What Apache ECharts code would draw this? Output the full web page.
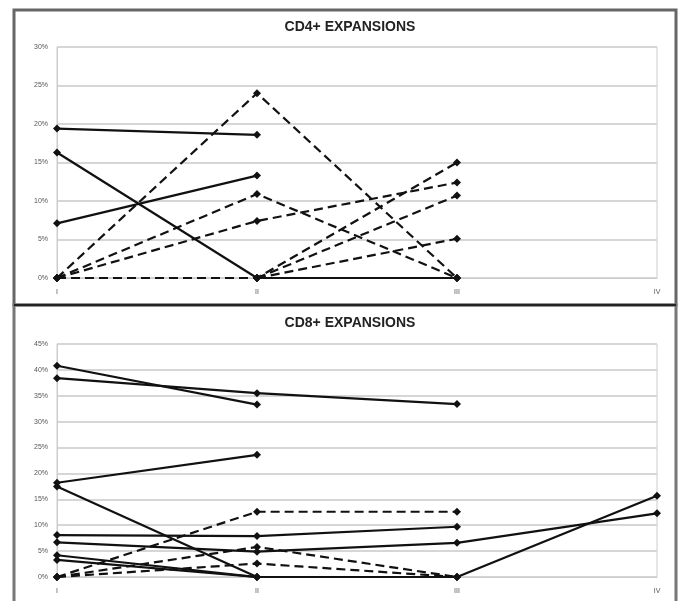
<!DOCTYPE html>
<html>
<head>
<meta charset="utf-8">
<script src="https://cdn.jsdelivr.net/npm/echarts@6/dist/echarts.min.js"></script>
<style>html,body{margin:0;padding:0;background:#fff;}#c{width:681px;height:601px;}</style>
</head>
<body>
<div id="c"></div>
<script>
// Categories (time points)
const categories = ['I', 'II', 'III', 'IV'];

// CD4+ expansions (%)
const cd4Solid1 = [19.4, 18.6, null, null];
const cd4Solid2 = [16.3, 0, 0, null];
const cd4Solid3 = [7.1, 13.3, null, null];
const cd4Dash1 = [0, 24.0, 0, null];
const cd4Dash2 = [0, 10.9, 0, null];
const cd4Dash3 = [0, 7.4, 12.4, null];
const cd4Dash4 = [0, 0, 15.0, null];
const cd4Dash5 = [null, 0, 10.7, null];
const cd4Dash6 = [null, 0, 5.1, null];

// CD8+ expansions (%)
const cd8Solid1 = [38.4, 35.5, 33.4, null];
const cd8Solid2 = [40.8, 33.3, null, null];
const cd8Solid3 = [18.2, 23.6, null, null];
const cd8Solid4 = [17.5, 0, 0, 15.7];
const cd8Solid5 = [8.1, 7.9, 9.7, null];
const cd8Solid6 = [6.7, 4.9, 6.6, 12.3];
const cd8Solid7 = [4.2, 0, null, null];
const cd8Solid8 = [3.3, 0, null, null];
const cd8Dash1 = [0, 12.6, 12.6, null];
const cd8Dash2 = [0, 5.8, 0, null];
const cd8Dash3 = [0, 2.6, 0, null];

// Y tick settings
const cd4YMax = 30, cd4YStep = 5;
const cd8YMax = 45, cd8YStep = 5;

const cd4Series = [
  {d: cd4Solid1, dash: false}, {d: cd4Solid2, dash: false}, {d: cd4Solid3, dash: false},
  {d: cd4Dash1, dash: true}, {d: cd4Dash2, dash: true}, {d: cd4Dash3, dash: true},
  {d: cd4Dash4, dash: true}, {d: cd4Dash5, dash: true}, {d: cd4Dash6, dash: true}
];
const cd8Series = [
  {d: cd8Solid1, dash: false}, {d: cd8Solid2, dash: false}, {d: cd8Solid3, dash: false},
  {d: cd8Solid4, dash: false}, {d: cd8Solid5, dash: false}, {d: cd8Solid6, dash: false},
  {d: cd8Solid7, dash: false}, {d: cd8Solid8, dash: false},
  {d: cd8Dash1, dash: true}, {d: cd8Dash2, dash: true}, {d: cd8Dash3, dash: true}
];

function mk(s, idx) {
  return {
    type: 'line', xAxisIndex: idx, yAxisIndex: idx,
    data: s.d.map(v => v === null ? '-' : v),
    connectNulls: false,
    symbol: 'diamond', symbolSize: 8,
    itemStyle: {color: '#111'},
    lineStyle: {color: '#111', width: 2.2, type: s.dash ? [9, 5] : 'solid'},
    animation: false, z: 3
  };
}

const chart = echarts.init(document.getElementById('c'));
const axisLabelStyle = {fontSize: 7, color: '#555', fontFamily: 'Liberation Sans'};
const xAx = (gi) => ({
  type: 'category', gridIndex: gi, data: categories, boundaryGap: false,
  axisLine: {show: true, lineStyle: {color: '#ccc', width: 1}},
  axisTick: {show: false},
  axisLabel: Object.assign({margin: 11}, axisLabelStyle),
  splitLine: {show: false}
});
const yAx = (gi, max, step) => ({
  type: 'value', gridIndex: gi, min: 0, max: max, interval: step,
  axisLine: {show: true, lineStyle: {color: '#ccc', width: 1}},
  axisTick: {show: false},
  axisLabel: Object.assign({margin: 9, formatter: '{value}%'}, axisLabelStyle),
  splitLine: {show: true, lineStyle: {color: '#d6d6d6', width: 2}}
});

chart.setOption({
  backgroundColor: '#fff',
  animation: false,
  title: [
    {text: 'CD4+ EXPANSIONS', left: 345, top: 15, textAlign: 'center',
     textStyle: {fontSize: 14, fontWeight: 'bold', color: '#222', fontFamily: 'Liberation Sans'}},
    {text: 'CD8+ EXPANSIONS', left: 345, top: 311, textAlign: 'center',
     textStyle: {fontSize: 14, fontWeight: 'bold', color: '#222', fontFamily: 'Liberation Sans'}}
  ],
  grid: [
    {left: 57, right: 24, top: 47, height: 231, show: true, borderColor: '#ccc', borderWidth: 1},
    {left: 57, right: 24, top: 344, height: 233, show: true, borderColor: '#ccc', borderWidth: 1}
  ],
  xAxis: [xAx(0), xAx(1)],
  yAxis: [yAx(0, cd4YMax, cd4YStep), yAx(1, cd8YMax, cd8YStep)],
  series: cd4Series.map(s => mk(s, 0)).concat(cd8Series.map(s => mk(s, 1))),
  graphic: [
    {type: 'rect', shape: {x: 14, y: 10, width: 662, height: 295},
     style: {fill: 'none', stroke: '#666', lineWidth: 3}, z: 10},
    {type: 'rect', shape: {x: 14, y: 305, width: 662, height: 310},
     style: {fill: 'none', stroke: '#777', lineWidth: 3}, z: 10},
    {type: 'line', shape: {x1: 14, y1: 305, x2: 676, y2: 305},
     style: {stroke: '#222', lineWidth: 2}, z: 11}
  ]
});
</script>
</body>
</html>
